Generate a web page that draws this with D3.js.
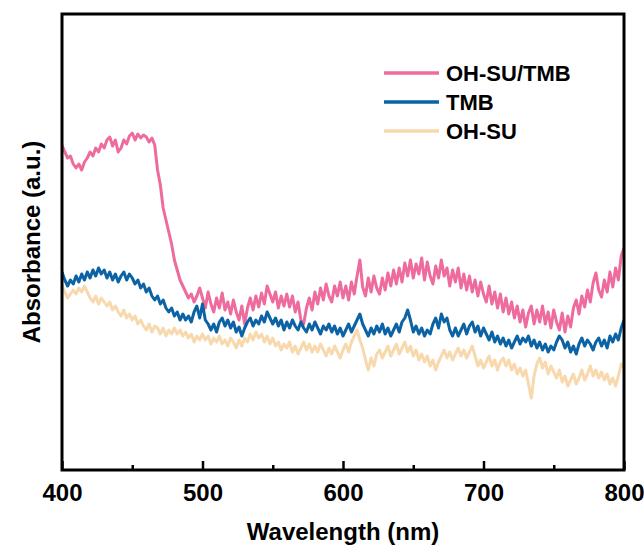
<!DOCTYPE html>
<html>
<head>
<meta charset="utf-8">
<script src="https://cdn.jsdelivr.net/npm/d3@7"></script>
<style>
  body { margin: 0; background: #fff; }
  text { font-family: "Liberation Sans", Arial, sans-serif; font-weight: bold; fill: #000; }
</style>
</head>
<body>
<div id="chart"></div>
<script>
// wavelength grid, 2 nm step (400 - 800 nm)
const wavelength = d3.range(400, 801, 2);

// OH-SU/TMB
const ohsuTmb = [
  .325,.318,.312,.314,.306,.302,.306,.300,.308,.312,
  .318,.314,.322,.318,.326,.322,.330,.333,.324,.330,
  .318,.322,.330,.326,.334,.337,.330,.336,.332,.335,
  .333,.328,.332,.325,.300,.285,.262,.250,.238,.226,
  .210,.200,.190,.184,.178,.172,.176,.168,.174,.182,
  .172,.162,.178,.166,.158,.172,.162,.177,.160,.168,
  .156,.170,.158,.150,.164,.146,.162,.172,.160,.174,
  .163,.177,.166,.184,.176,.168,.178,.162,.174,.164,
  .176,.163,.174,.158,.168,.150,.146,.162,.172,.160,
  .178,.166,.182,.170,.186,.174,.168,.184,.174,.188,
  .172,.184,.170,.188,.176,.194,.210,.183,.174,.192,
  .178,.194,.182,.176,.192,.180,.197,.184,.200,.186,
  .202,.188,.207,.194,.210,.192,.206,.196,.212,.190,
  .208,.194,.186,.204,.192,.210,.194,.202,.184,.200,
  .188,.202,.182,.196,.180,.194,.178,.190,.174,.188,
  .176,.168,.184,.166,.178,.162,.176,.158,.172,.156,
  .168,.152,.164,.148,.160,.143,.157,.164,.146,.160,
  .148,.164,.146,.158,.142,.160,.148,.140,.157,.138,
  .154,.143,.162,.170,.156,.174,.163,.180,.168,.187,
  .197,.180,.173,.190,.178,.198,.183,.202,.190,.214,
  .222
];

// TMB
const tmb = [
  .198,.190,.184,.190,.186,.194,.188,.196,.190,.198,
  .192,.200,.194,.202,.196,.200,.192,.198,.190,.196,
  .188,.194,.198,.190,.196,.192,.186,.190,.182,.186,
  .178,.182,.174,.170,.174,.166,.170,.162,.158,.162,
  .154,.158,.150,.156,.150,.154,.148,.158,.164,.152,
  .166,.150,.146,.140,.146,.138,.148,.152,.144,.150,
  .142,.148,.138,.143,.134,.142,.148,.152,.144,.150,
  .146,.154,.148,.158,.152,.146,.152,.144,.150,.140,
  .148,.142,.150,.144,.140,.148,.142,.138,.146,.140,
  .148,.142,.136,.144,.140,.146,.138,.144,.136,.142,
  .134,.140,.146,.138,.144,.150,.156,.146,.140,.134,
  .142,.136,.144,.138,.146,.136,.142,.134,.140,.146,
  .138,.148,.152,.160,.150,.138,.144,.136,.142,.134,
  .140,.136,.146,.152,.142,.156,.148,.152,.140,.134,
  .142,.134,.140,.146,.136,.144,.148,.138,.144,.134,
  .142,.136,.130,.138,.128,.134,.126,.132,.124,.130,
  .122,.128,.134,.126,.132,.128,.134,.124,.130,.122,
  .128,.120,.126,.118,.124,.120,.128,.134,.130,.122,
  .128,.118,.124,.116,.126,.132,.124,.130,.126,.120,
  .128,.132,.124,.130,.122,.134,.128,.136,.130,.142,
  .150
];

// OH-SU
const ohsu = [
  .185,.178,.172,.176,.180,.176,.182,.178,.184,.178,
  .172,.168,.174,.166,.172,.168,.164,.168,.160,.164,
  .158,.154,.160,.152,.156,.150,.154,.146,.150,.144,
  .140,.146,.138,.144,.142,.136,.142,.134,.140,.136,
  .142,.136,.140,.134,.138,.132,.136,.128,.134,.130,
  .136,.130,.134,.126,.132,.128,.134,.126,.130,.124,
  .132,.128,.122,.130,.124,.132,.128,.136,.130,.138,
  .132,.136,.128,.134,.126,.132,.124,.128,.120,.126,
  .122,.128,.118,.124,.116,.122,.128,.120,.126,.118,
  .124,.118,.126,.120,.114,.122,.116,.124,.118,.112,
  .120,.126,.118,.128,.134,.140,.130,.122,.110,.100,
  .112,.104,.116,.120,.112,.118,.124,.114,.120,.126,
  .116,.122,.128,.118,.124,.114,.120,.110,.116,.108,
  .114,.104,.110,.100,.108,.114,.120,.112,.118,.110,
  .116,.122,.114,.120,.112,.118,.124,.114,.104,.110,
  .102,.108,.114,.104,.110,.100,.108,.112,.104,.110,
  .100,.106,.096,.102,.094,.100,.086,.072,.094,.106,
  .112,.102,.108,.096,.104,.098,.092,.100,.088,.094,
  .084,.090,.096,.086,.092,.100,.090,.096,.104,.094,
  .100,.092,.098,.090,.096,.086,.092,.084,.094,.106,
  .102
];

const seriesNames = ["OH-SU/TMB", "TMB", "OH-SU"];
const seriesValues = [ohsuTmb, tmb, ohsu];
const seriesColors = ["#ee6b9e", "#0b62a4", "#f8d9ae"];
const xTicks = [400, 500, 600, 700, 800];
const xMinorTicks = [450, 550, 650, 750];

const W = 644, H = 546;
const margin = {top: 14, right: 20, bottom: 76, left: 62};
const width = W - margin.left - margin.right,
      height = H - margin.top - margin.bottom;

const svg = d3.select("#chart").append("svg")
    .attr("width", W)
    .attr("height", H);

const g = svg.append("g")
    .attr("transform", "translate(" + margin.left + "," + margin.top + ")");

const x = d3.scaleLinear().domain([400, 800]).range([0, width]);
const y = d3.scaleLinear().domain([0, 0.456]).range([height, 0]);

g.append("clipPath").attr("id", "clip")
  .append("rect").attr("width", width).attr("height", height);

const line = d3.line()
    .x(function(d, i){ return x(wavelength[i]); })
    .y(function(d){ return y(d); });

// draw order: pink, beige, blue
[0, 2, 1].forEach(function(k){
  g.append("path")
    .datum(seriesValues[k])
    .attr("clip-path", "url(#clip)")
    .attr("fill", "none")
    .attr("stroke", seriesColors[k])
    .attr("stroke-width", 3)
    .attr("stroke-linejoin", "round")
    .attr("d", line);
});

// x axis with inward ticks
const xAxis = g.append("g")
    .attr("transform", "translate(0," + height + ")")
    .call(d3.axisBottom(x).tickValues(xTicks).tickSizeInner(-9).tickSizeOuter(0).tickPadding(14));
xAxis.select(".domain").remove();
xAxis.selectAll(".tick line").attr("stroke", "#000").attr("stroke-width", 2.5);
xAxis.selectAll(".tick text")
    .style("font-size", "24px")
    .attr("dy", "0.71em");

g.append("g")
    .attr("transform", "translate(0," + height + ")")
    .call(d3.axisBottom(x).tickValues(xMinorTicks).tickSizeInner(-5).tickSizeOuter(0).tickFormat(""))
    .call(function(a){ a.select(".domain").remove(); })
    .selectAll(".tick line").attr("stroke", "#000").attr("stroke-width", 2.5);

// frame
g.append("rect")
    .attr("width", width)
    .attr("height", height)
    .attr("fill", "none")
    .attr("stroke", "#000")
    .attr("stroke-width", 3);

// axis titles
svg.append("text")
    .attr("x", margin.left + width / 2)
    .attr("y", 540)
    .attr("text-anchor", "middle")
    .style("font-size", "24px")
    .text("Wavelength (nm)");

svg.append("text")
    .attr("transform", "translate(40," + (margin.top + height / 2) + ") rotate(-90)")
    .attr("text-anchor", "middle")
    .style("font-size", "24px")
    .text("Absorbance (a.u.)");

// legend
const legend = svg.append("g").attr("transform", "translate(384,73)");
seriesNames.forEach(function(name, i){
  const row = legend.append("g").attr("transform", "translate(0," + (i * 29) + ")");
  row.append("line")
    .attr("x1", 0).attr("x2", 55)
    .attr("stroke", seriesColors[i])
    .attr("stroke-width", 3.5);
  row.append("text")
    .attr("x", 62)
    .attr("dy", "0.36em")
    .style("font-size", "22px")
    .text(name);
});
</script>
</body>
</html>
